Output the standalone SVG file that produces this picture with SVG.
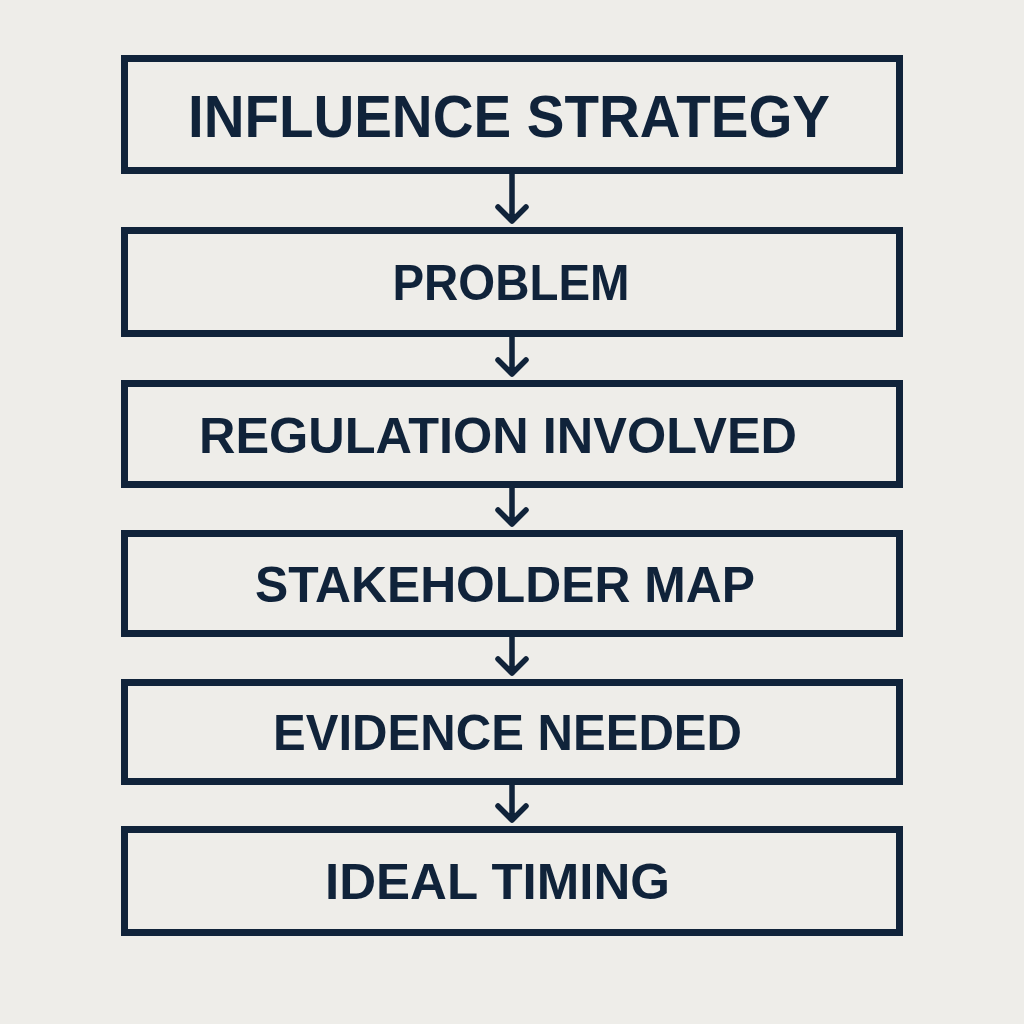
<svg xmlns="http://www.w3.org/2000/svg" width="1024" height="1024" viewBox="0 0 1024 1024">
<style>
.box{fill:none;stroke:#10233a;stroke-width:7}
.lbl{font-family:"Liberation Sans",Arial,sans-serif;font-weight:bold;fill:#10233a;text-anchor:middle}
.conn{fill:none;stroke:#10233a;stroke-width:5.5;stroke-linecap:round;stroke-linejoin:round}
</style>
<rect width="1024" height="1024" fill="#eeede9"/>
<g id="n1"><rect class="box" x="124.5" y="58.5" width="775" height="112"/><text class="lbl" x="509" y="137" font-size="60" textLength="642" lengthAdjust="spacingAndGlyphs">INFLUENCE STRATEGY</text></g>
<g id="n2"><rect class="box" x="124.5" y="230.5" width="775" height="103"/><text class="lbl" x="511" y="300" font-size="50" textLength="237" lengthAdjust="spacingAndGlyphs">PROBLEM</text></g>
<g id="n3"><rect class="box" x="124.5" y="383.5" width="775" height="101"/><text class="lbl" x="498" y="453" font-size="50" textLength="598" lengthAdjust="spacingAndGlyphs">REGULATION INVOLVED</text></g>
<g id="n4"><rect class="box" x="124.5" y="533.5" width="775" height="100"/><text class="lbl" x="505" y="601.5" font-size="50" textLength="500" lengthAdjust="spacingAndGlyphs">STAKEHOLDER MAP</text></g>
<g id="n5"><rect class="box" x="124.5" y="682.5" width="775" height="99"/><text class="lbl" x="507.5" y="750" font-size="50" textLength="469" lengthAdjust="spacingAndGlyphs">EVIDENCE NEEDED</text></g>
<g id="n6"><rect class="box" x="124.5" y="829.5" width="775" height="103"/><text class="lbl" x="497.5" y="899" font-size="50" textLength="345" lengthAdjust="spacingAndGlyphs">IDEAL TIMING</text></g>
<g id="connectors">
<path class="conn" d="M512 174V221M498 207L512 221L526 207"/>
<path class="conn" d="M512 337V374M498 360L512 374L526 360"/>
<path class="conn" d="M512 488V524M498 510L512 524L526 510"/>
<path class="conn" d="M512 637V673M498 659L512 673L526 659"/>
<path class="conn" d="M512 785V820M498 806L512 820L526 806"/>
</g>
</svg>
